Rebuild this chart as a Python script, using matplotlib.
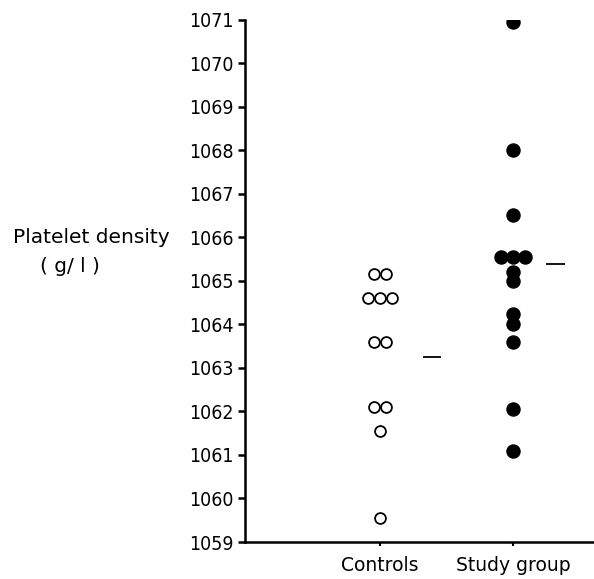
import matplotlib
matplotlib.use("Agg")
import matplotlib.pyplot as plt
import matplotlib.transforms as mtransforms
import numpy as np

# values (g/l)
groups = ["Controls", "Study group"]
controls = [1065.15, 1065.15, 1064.6, 1064.6, 1064.6, 1063.6, 1063.6,
            1062.1, 1062.1, 1061.55, 1059.55]
study = [1070.95, 1068.0, 1066.52, 1065.55, 1065.55, 1065.55, 1065.2,
         1065.0, 1064.25, 1064.0, 1063.6, 1062.05, 1061.1]
means = [1063.25, 1065.4]
yticks = list(range(1059, 1072))

plt.rcParams['font.family'] = ['DejaVu Sans']


def swarm_x(vals, center, step=0.088):
    # spread equal values side by side
    xs = []
    vals = np.array(vals)
    for v in vals:
        same = np.where(vals == v)[0]
        n = len(same)
        k = len([x for x in xs if x[1] == v])
        xs.append((center + (k - (n - 1) / 2) * step, v))
    return [x[0] for x in xs]


fig = plt.figure(figsize=(5.94, 5.79), dpi=100)
ax = fig.add_axes([0.4125, 0.0639, 0.5875, 0.9016])

ax.plot(swarm_x(controls, 1), controls, 'o', ms=7.8, mfc='white',
        mec='black', mew=1.3, linestyle='none')
ax.plot(swarm_x(study, 2), study, 'o', ms=9.4, mfc='black',
        mec='black', linestyle='none')

# group means
ax.hlines(means[0], 1.32, 1.46, color='black', lw=1.3)
ax.hlines(means[1], 2.25, 2.39, color='black', lw=1.3)

ax.set_xlim(-0.015, 2.61)
ax.set_ylim(1059, 1071)
ax.set_xticks([1, 2])
ax.set_xticklabels(groups, fontsize=13.5)
ax.set_yticks(yticks)
ax.set_yticklabels([str(t) for t in yticks], fontsize=14, stretch='condensed')

# labels sit a little right of their ticks in the original
shift = mtransforms.ScaledTranslation(5 / 72, 0, fig.dpi_scale_trans)
for lab in ax.get_xticklabels():
    lab.set_transform(lab.get_transform() + shift)

for s in ['top', 'right']:
    ax.spines[s].set_visible(False)
for s in ['left', 'bottom']:
    ax.spines[s].set_linewidth(1.8)
ax.tick_params(axis='y', length=5, width=1.8, pad=3)
ax.tick_params(axis='x', length=3, width=1.5, pad=7)

fig.text(0.153, 0.589, "Platelet density", fontsize=14.5, ha='center', va='center')
fig.text(0.118, 0.539, "( g/ l )", fontsize=14.5, ha='center', va='center')

fig.savefig("out.png", dpi=100)
